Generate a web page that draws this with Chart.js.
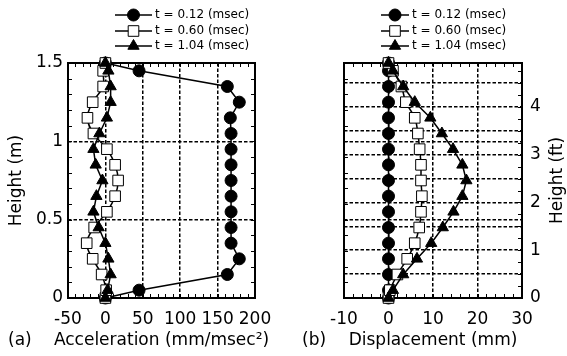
<!DOCTYPE html>
<html>
<head>
<meta charset="utf-8">
<script src="https://cdn.jsdelivr.net/npm/chart.js@4/dist/chart.umd.min.js"></script>
<style>
  html, body { margin: 0; padding: 0; background: #fff; }
  #wrap { position: relative; width: 567px; height: 356px; }
  #acc-box { position: absolute; left: 0; top: 0; width: 283px; height: 356px; }
  #disp-box { position: absolute; left: 283px; top: 0; width: 284px; height: 356px; }
</style>
</head>
<body>
<div id="wrap">
  <div id="acc-box"><canvas id="chart-acc"></canvas></div>
  <div id="disp-box"><canvas id="chart-disp"></canvas></div>
</div>
<script>
const FONT = "'DejaVu Sans', sans-serif";

// heights (m) of the measuring points
const heights = [0, 0.05, 0.15, 0.25, 0.35, 0.45, 0.55, 0.65, 0.75, 0.85, 0.95, 1.05, 1.15, 1.25, 1.35, 1.45, 1.5];
const seriesLabels = ["t = 0.12 (msec)", "t = 0.60 (msec)", "t = 1.04 (msec)"];

// acceleration (mm/msec2)
const accT012 = [0, 45, 163, 179, 168, 168, 168, 168, 168, 168, 168, 168, 167, 179, 163, 45, 0];
const accT060 = [0, 1, -5, -17, -25, -15, 2, 13, 17, 13, 2, -16, -24, -17, -3, -3, 0];
const accT104 = [0, 3, 7, 4, 0, -9, -16, -12, -4, -13, -16, -8, 2, 7, 7, 4, 0];

// displacement (mm)
const dispT012 = [0, 0, 0, 0, 0, 0, 0, 0, 0, 0, 0, 0, 0, 0, 0, 0, 0];
const dispT060 = [0, 0.3, 2, 4.2, 5.9, 6.9, 7.3, 7.5, 7.3, 7.3, 7, 6.6, 5.9, 3.9, 2.9, 1, 0];
const dispT104 = [0, 1, 3.3, 6.4, 9.6, 12.2, 14.6, 16.6, 17.5, 16.6, 14.5, 12, 9.4, 5.9, 3.3, 1, 0];

// tick values
const accTicks = [-50, 0, 50, 100, 150, 200];
const dispTicks = [-10, 0, 10, 20, 30];
const meterTicks = [0, 0.5, 1, 1.5];
const feetTicks = [0, 0.5, 1, 1.5, 2, 2.5, 3, 3.5, 4, 4.5];

const markStyles = [
  { pointStyle: "circle", pointRadius: 6, pointBackgroundColor: "#000", tension: 0, order: 3 },
  { pointStyle: "rect", pointRadius: 7.5, pointBackgroundColor: "#fff", tension: 0.4, order: 2 },
  { pointStyle: "triangle", pointRadius: 6.5, pointBackgroundColor: "#000", tension: 0, order: 1 },
];

function makeDataset(xs, i) {
  return {
    label: seriesLabels[i],
    data: xs.map((x, k) => ({ x: x, y: heights[k] })),
    showLine: true,
    borderColor: "#000",
    borderWidth: 1.5,
    pointBorderColor: "#000",
    pointBorderWidth: 1,
    clip: false,
    ...markStyles[i],
  };
}

function drawMarker(ctx, style, x, y, r) {
  ctx.fillStyle = style.pointBackgroundColor;
  ctx.strokeStyle = "#000";
  ctx.lineWidth = 1;
  ctx.beginPath();
  if (style.pointStyle === "circle") {
    ctx.arc(x, y, r, 0, Math.PI * 2);
  } else if (style.pointStyle === "rect") {
    const s = r * Math.SQRT1_2;
    ctx.rect(x - s, y - s, 2 * s, 2 * s);
  } else {
    ctx.moveTo(x, y - r);
    ctx.lineTo(x + 0.866 * r, y + 0.5 * r);
    ctx.lineTo(x - 0.866 * r, y + 0.5 * r);
    ctx.closePath();
  }
  ctx.fill();
  ctx.stroke();
}

// frame, inward minor ticks, legend, titles and panel tag
const framePlugin = {
  id: "frame",
  beforeDatasetsDraw(chart, args, opts) {
    const { ctx, chartArea: a, scales } = chart;
    ctx.save();
    ctx.strokeStyle = "#000";
    ctx.lineWidth = 1;
    const len = 4;
    const seg = (x1, y1, x2, y2) => { ctx.beginPath(); ctx.moveTo(x1, y1); ctx.lineTo(x2, y2); ctx.stroke(); };
    const sx = scales.x;
    for (let v = sx.min; v <= sx.max + 1e-9; v += opts.minorX) {
      const p = Math.round(sx.getPixelForValue(v)) + 0.5;
      seg(p, a.top, p, a.top + len);
      seg(p, a.bottom, p, a.bottom - len);
    }
    const sy = scales.y;
    for (let v = sy.min; v <= sy.max + 1e-9; v += opts.minorY) {
      const p = Math.round(sy.getPixelForValue(v)) + 0.5;
      seg(a.left, p, a.left + len, p);
      if (!opts.rightScale) seg(a.right, p, a.right - len, p);
    }
    if (opts.rightScale) {
      const sr = scales[opts.rightScale];
      for (let v = sr.min; v <= sr.max + 1e-9; v += opts.minorRight) {
        const p = Math.round(sr.getPixelForValue(v)) + 0.5;
        seg(a.right, p, a.right - len, p);
      }
    }
    ctx.lineWidth = 2;
    ctx.strokeRect(a.left, a.top, a.right - a.left, a.bottom - a.top);
    ctx.restore();
  },
  afterDraw(chart, args, opts) {
    const { ctx, chartArea: a } = chart;
    ctx.save();
    const rows = [15, 31, 46];
    chart.data.datasets.forEach((ds, i) => {
      const y = rows[i];
      ctx.strokeStyle = "#000";
      ctx.lineWidth = 1.5;
      ctx.beginPath();
      ctx.moveTo(opts.keyX0, y);
      ctx.lineTo(opts.keyX1, y);
      ctx.stroke();
      drawMarker(ctx, ds, (opts.keyX0 + opts.keyX1) / 2, y, ds.pointRadius);
      ctx.fillStyle = "#000";
      ctx.font = "12px " + FONT;
      ctx.textAlign = "left";
      ctx.textBaseline = "middle";
      ctx.fillText(ds.label, opts.keyText, y);
    });
    ctx.font = "17px " + FONT;
    ctx.fillStyle = "#000";
    ctx.textBaseline = "middle";
    ctx.textAlign = "left";
    ctx.fillText(opts.tag, opts.tagX, opts.titleY);
    ctx.textAlign = "center";
    ctx.fillText(opts.xTitle, (a.left + a.right) / 2, opts.titleY);
    if (opts.rightTitle) {
      ctx.translate(opts.rightTitleX, (a.top + a.bottom) / 2);
      ctx.rotate(-Math.PI / 2);
      ctx.fillText(opts.rightTitle, 0, 0);
    }
    ctx.restore();
  },
};

const tickFont = { family: FONT, size: 17 };
const titleFont = { family: FONT, size: 17, lineHeight: 1 };
const gridStyle = { color: "#000", lineWidth: 1.5, drawTicks: false };
const borderStyle = { display: false, dash: [3.5, 2] };
const plainLabel = (v) => String(v);

function fixedTicks(values) {
  return (s) => { s.ticks = values.map((v) => ({ value: v })); };
}

const accChart = new Chart(document.getElementById("chart-acc"), {
  type: "scatter",
  data: { datasets: [makeDataset(accT012, 0), makeDataset(accT060, 1), makeDataset(accT104, 2)] },
  options: {
    responsive: true,
    maintainAspectRatio: false,
    animation: false,
    devicePixelRatio: 1,
    layout: { padding: { top: 63, right: 28, left: 0, bottom: 0 } },
    plugins: {
      legend: { display: false },
      tooltip: { enabled: false },
      frame: {
        minorX: 10, minorY: 0.1, keyX0: 115, keyX1: 152, keyText: 155,
        tag: "(a)", tagX: 8, titleY: 341, xTitle: "Acceleration (mm/msec²)",
      },
    },
    scales: {
      x: {
        type: "linear", min: -50, max: 200,
        afterBuildTicks: fixedTicks(accTicks),
        ticks: { font: tickFont, color: "#000", padding: 11, autoSkip: false, maxRotation: 0, callback: plainLabel },
        grid: gridStyle, border: borderStyle,
        afterFit: (s) => { s.height = 58; },
      },
      y: {
        type: "linear", min: 0, max: 1.5,
        afterBuildTicks: fixedTicks(meterTicks),
        ticks: { font: tickFont, color: "#000", padding: 5, autoSkip: false, callback: plainLabel },
        grid: gridStyle, border: borderStyle,
        title: { display: true, text: "Height (m)", font: titleFont, color: "#000", padding: { top: 8 } },
        afterFit: (s) => { s.width = 68; },
      },
    },
  },
  plugins: [framePlugin],
});

const dispChart = new Chart(document.getElementById("chart-disp"), {
  type: "scatter",
  data: { datasets: [makeDataset(dispT012, 0), makeDataset(dispT060, 1), makeDataset(dispT104, 2)] },
  options: {
    responsive: true,
    maintainAspectRatio: false,
    animation: false,
    devicePixelRatio: 1,
    layout: { padding: { top: 63, right: 0, left: 0, bottom: 0 } },
    plugins: {
      legend: { display: false },
      tooltip: { enabled: false },
      frame: {
        minorX: 2, minorY: 0.1, rightScale: "y2", minorRight: 0.25, keyX0: 98, keyX1: 126, keyText: 129,
        tag: "(b)", tagX: 19, titleY: 341, xTitle: "Displacement (mm)",
        rightTitle: "Height (ft)", rightTitleX: 275,
      },
    },
    scales: {
      x: {
        type: "linear", min: -10, max: 30,
        afterBuildTicks: fixedTicks(dispTicks),
        ticks: { font: tickFont, color: "#000", padding: 11, autoSkip: false, maxRotation: 0, callback: plainLabel },
        grid: gridStyle, border: borderStyle,
        afterFit: (s) => { s.height = 58; },
      },
      y: {
        type: "linear", min: 0, max: 1.5,
        afterBuildTicks: fixedTicks(meterTicks),
        ticks: { display: false },
        grid: gridStyle, border: borderStyle,
        afterFit: (s) => { s.width = 61; },
      },
      y2: {
        type: "linear", position: "right", min: 0, max: 1.5 / 0.3048,
        afterBuildTicks: fixedTicks(feetTicks),
        ticks: {
          font: tickFont, color: "#000", padding: 8, autoSkip: false,
          callback: (v) => (Number.isInteger(v) ? String(v) : ""),
        },
        grid: gridStyle, border: borderStyle,
        afterFit: (s) => { s.width = 45; },
      },
    },
  },
  plugins: [framePlugin],
});
</script>
</body>
</html>
